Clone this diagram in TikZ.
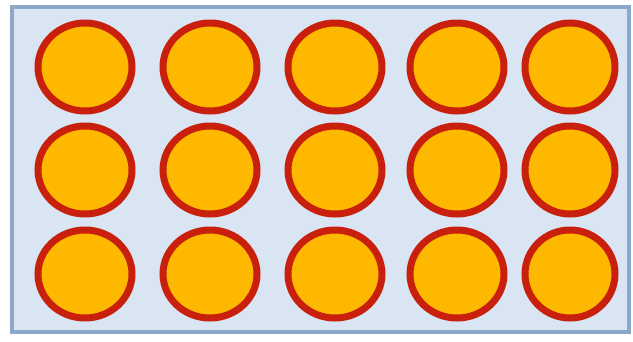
\documentclass[tikz,border=0pt]{standalone}
\usepackage{tikz}

\definecolor{trayfill}{RGB}{218,229,244}
\definecolor{trayedge}{RGB}{140,168,200}
\definecolor{cellfill}{RGB}{255,184,0}
\definecolor{celledge}{RGB}{200,32,12}

\begin{document}
\begin{tikzpicture}[x=1pt, y=-1pt,
  tray/.style={fill=trayfill, draw=trayedge, line width=4pt},
  cell/.style={fill=cellfill, draw=celledge, line width=7pt}]
  \useasboundingbox (0,0) rectangle (633,341);
  \draw[tray] (12,7) rectangle (629,332);
  % top row
  \draw[cell] (85,67) ellipse (47 and 44);
  \draw[cell] (210,67) ellipse (47 and 44);
  \draw[cell] (335,67) ellipse (47 and 44);
  \draw[cell] (457,67) ellipse (47 and 44);
  \draw[cell] (570,67) ellipse (45 and 44);
  % middle row
  \draw[cell] (85,170) ellipse (47 and 44);
  \draw[cell] (210,170) ellipse (47 and 44);
  \draw[cell] (335,170) ellipse (47 and 44);
  \draw[cell] (457,170) ellipse (47 and 44);
  \draw[cell] (570,170) ellipse (45 and 44);
  % bottom row
  \draw[cell] (85,274) ellipse (47 and 44);
  \draw[cell] (210,274) ellipse (47 and 44);
  \draw[cell] (335,274) ellipse (47 and 44);
  \draw[cell] (457,274) ellipse (47 and 44);
  \draw[cell] (570,274) ellipse (45 and 44);
\end{tikzpicture}
\end{document}
